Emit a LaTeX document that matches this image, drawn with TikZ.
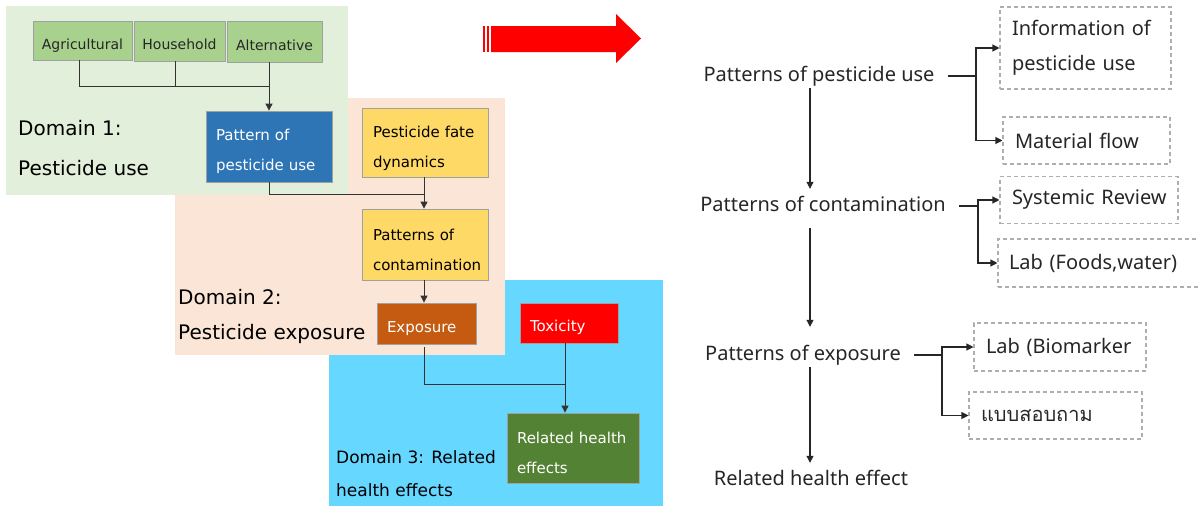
\documentclass[tikz,border=0pt]{standalone}
\usepackage{fontspec}
\setmainfont{DejaVu Sans}
\newfontfamily\rfont{Noto Sans}
\newfontfamily\thaifont[Script=Thai]{Loma}
\usetikzlibrary{arrows.meta,calc}

\definecolor{dgreenbg}{HTML}{E2EFDA}
\definecolor{dpeachbg}{HTML}{FBE5D6}
\definecolor{dcyanbg}{HTML}{66D7FF}
\definecolor{srcgreen}{HTML}{A9D18E}
\definecolor{useblue}{HTML}{2E75B6}
\definecolor{fateyellow}{HTML}{FFD966}
\definecolor{expoorange}{HTML}{C55A11}
\definecolor{toxred}{HTML}{FF0000}
\definecolor{effgreen}{HTML}{548235}
\definecolor{boxedge}{HTML}{A0A0A0}
\definecolor{dashgray}{HTML}{AEAEAE}
\definecolor{wire}{HTML}{333333}

\tikzset{
  x=1pt, y=-1pt,
  tip/.style={-{Triangle[length=7pt,width=7pt]}},
  wireline/.style={draw=wire, line width=0.9pt},
  srcbox/.style={draw=boxedge, line width=0.8pt, fill=srcgreen, inner sep=0pt,
    font=\fontsize{14}{16}\selectfont, text=black!85, text height=20pt, text depth=3pt},
  flowbox/.style={draw=boxedge, line width=0.8pt, inner xsep=10pt, inner ysep=0pt,
    align=left, font=\fontsize{15}{30}\selectfont, text height=22pt},
  domainlabel/.style={anchor=west, inner sep=0pt, align=left, text=black},
  stage/.style={font=\rfont\fontsize{20}{24}\selectfont, text=black!85,
    inner xsep=13pt, inner ysep=0pt, text height=15pt, text depth=5pt},
  methodbox/.style={draw=dashgray, line width=1.1pt, dash pattern=on 4pt off 3pt,
    inner xsep=12pt, inner ysep=0pt, align=left, text=black!85,
    font=\rfont\fontsize{20}{35}\selectfont},
  rwire/.style={draw=black!85, line width=1.1pt},
}

\begin{document}
\begin{tikzpicture}
\useasboundingbox (0,0) rectangle (1198,506);

% domain backgrounds, lowest first
\fill[dcyanbg] (329,280) rectangle (663,506);
\fill[dpeachbg] (175,98) rectangle (505,355);
\fill[dgreenbg] (6,6) rectangle (348,195);

% domain captions
\node[domainlabel, font=\fontsize{20}{40}\selectfont] (d1) at (18,148) {Domain 1:\\Pesticide use};
\node[domainlabel, font=\fontsize{20}{35}\selectfont] (d2) at (178,316) {Domain 2:\\Pesticide exposure};
\node[domainlabel, font=\fontsize{17}{33}\selectfont] (d3) at (336,474) {Domain 3: Related\\health effects};

% domain 1: sources of use
\node[srcbox, minimum width=99pt, minimum height=39pt] (agri) at (82.5,40.5) {Agricultural};
\node[srcbox, minimum width=91pt, minimum height=40pt] (house) at (179.5,41) {Household};
\node[srcbox, minimum width=95pt, minimum height=41pt] (alt) at (274.5,41.5) {Alternative};

\node[flowbox, fill=useblue, text=white, text width=106pt, minimum height=71pt] (pat) at (269,146.5) {Pattern of\\pesticide use};

% domain 2
\node[flowbox, fill=fateyellow, text=black, text width=104pt, minimum height=69pt, inner xsep=11pt, text height=24pt] (fate) at (425,142.5) {Pesticide fate\\dynamics};
\node[flowbox, fill=fateyellow, text=black, text width=104pt, minimum height=71pt, inner xsep=11pt] (cont) at (425,244.5) {Patterns of\\contamination};
\node[flowbox, fill=expoorange, text=white, text width=79pt, minimum height=41pt, text height=21pt] (expo) at (426.5,323.5) {Exposure};

% domain 3
\node[flowbox, fill=toxred, text=white, text width=78pt, minimum height=40pt, text height=20pt] (tox) at (569,323) {Toxicity};
\node[flowbox, fill=effgreen, text=white, text width=112pt, minimum height=70pt] (rel) at (573,448) {Related health\\effects};

% left connectors
\coordinate (j0) at (269,86);
\draw[wireline] ($(agri.south)+(-3,0)$) |- (j0);
\draw[wireline] ($(house.south)+(-4,0)$) -- ++(0,25);
\draw[wireline, tip] (alt.south -| pat.north) -- (pat.north);

\coordinate (jc) at (424,194);
\draw[wireline] (pat.south) |- (jc);
\draw[wireline, tip] (fate.south -| jc) -- (cont.north -| jc);
\draw[wireline, tip] (cont.south -| jc) -- (expo.north -| jc);

\coordinate (je) at (565,384);
\draw[wireline] ($(expo.south -| jc)+(0,3)$) |- (je);
\draw[wireline, tip] (tox.south -| je) -- (rel.north -| je);

% transition arrow
\fill[toxred] (491,26) -- (616,26) -- (616,14) -- (641,38.5) -- (616,63) -- (616,52) -- (491,52) -- cycle;
\fill[toxred] (483.3,26) rectangle (485,52);
\fill[toxred] (486.7,26) rectangle (489,52);

% right side: stages
\coordinate (spine) at (810,0);
\node[stage] (t1) at (819,76) {Patterns of pesticide use};
\node[stage] (t2) at (823,206) {Patterns of contamination};
\node[stage] (t3) at (803,355) {Patterns of exposure};
\node[stage] (t4) at (811,480) {Related health effect};

\draw[rwire, tip, shorten <=2pt, shorten >=7pt] (t1.south -| spine) -- (t2.north -| spine);
\draw[rwire, tip, shorten <=12pt, shorten >=18pt] (t2.south -| spine) -- (t3.north -| spine);
\draw[rwire, tip, shorten <=2pt, shorten >=7pt] (t3.south -| spine) -- (t4.north -| spine);

% right side: methods
\node[methodbox, text width=147pt, minimum height=82pt] (info) at (1085.5,48) {Information of\\pesticide use};
\node[methodbox, text width=143pt, minimum height=47pt] (mat) at (1086.5,140.5) {Material flow};
\node[methodbox, text width=154pt, minimum height=47pt] (sys) at (1089,200) {\mbox{Systemic Review}};
\node[methodbox, text width=179pt, minimum height=48pt, inner xsep=11pt] (lab) at (1098.5,263) {\mbox{Lab (Foods,water)}};
\node[methodbox, text width=148pt, minimum height=48pt] (bio) at (1060,347) {Lab (Biomarker};
\node[methodbox, text width=149pt, minimum height=47pt, font=\thaifont\fontsize{20}{24}\selectfont] (q) at (1055.5,415.5) {แบบสอบถาม};

\coordinate (j1) at (976,76);
\draw[rwire] (t1.east) -- (j1);
\draw[rwire, tip] (j1) |- (info.west);
\draw[rwire, tip] (j1) |- (mat.west);

\coordinate (j2) at (978,206);
\draw[rwire] (t2.east) -- (j2);
\draw[rwire, tip] (j2) |- (sys.west);
\draw[rwire, tip] (j2) |- (lab.west);

\coordinate (j3) at (942,355);
\draw[rwire] (t3.east) -- (j3);
\draw[rwire, tip] (j3) |- (bio.west);
\draw[rwire, tip] (j3) |- (q.west);
\end{tikzpicture}
\end{document}
